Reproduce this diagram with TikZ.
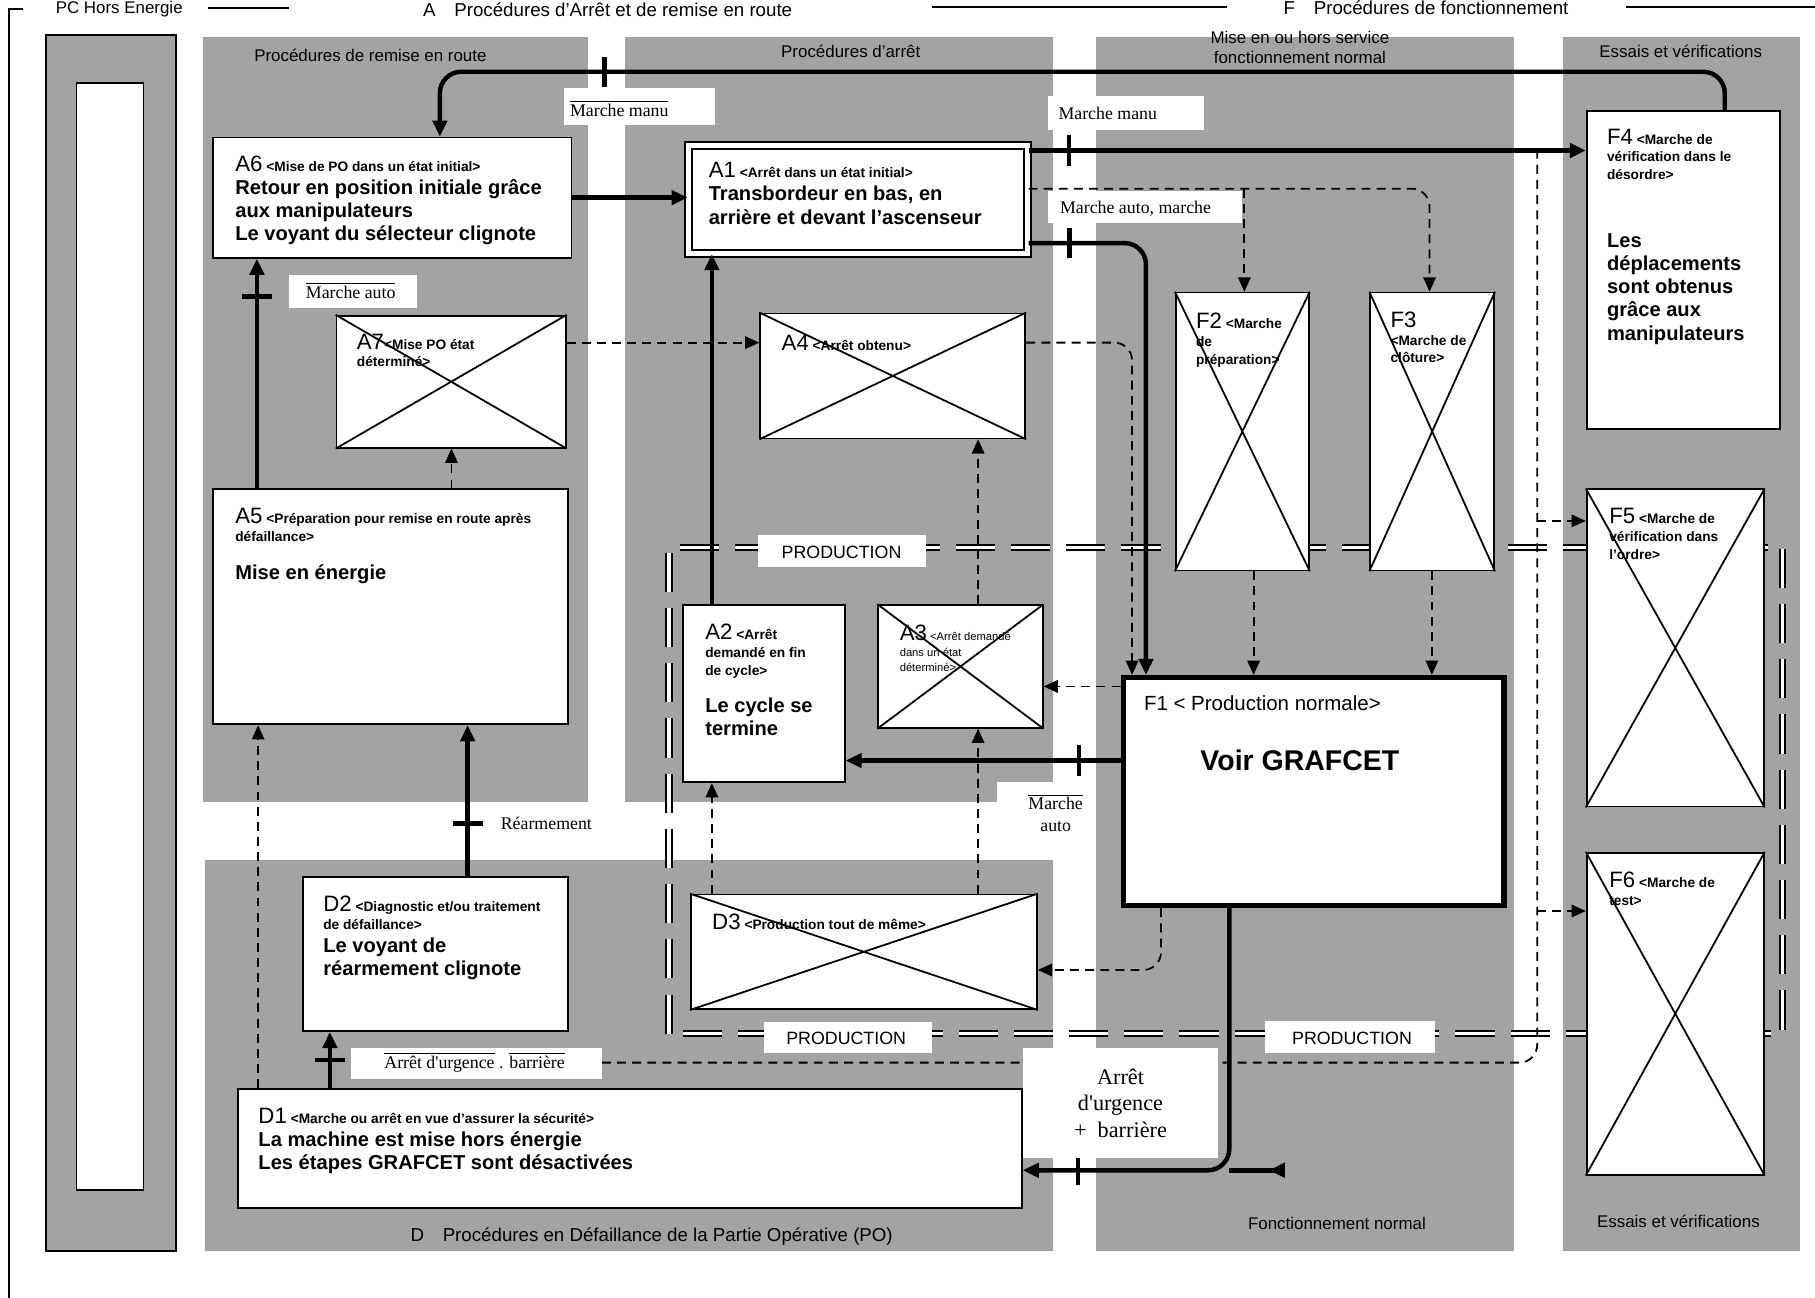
\documentclass[tikz,border=0pt]{standalone}
\usepackage{fontspec}
\setmainfont{Liberation Sans}
\newfontfamily\romain{Liberation Serif}
\usetikzlibrary{arrows.meta}

\newcommand{\petit}{\fontsize{7.7}{10}\selectfont\bfseries\spaceskip=0pt\xspaceskip=0pt}
\newcommand{\grand}{\fontsize{12.5}{13}\selectfont\mdseries}
\newcommand{\corps}{\fontsize{11.3}{13}\selectfont\bfseries\spaceskip=0pt\xspaceskip=0pt}
\newcommand{\zonetxt}{\fontsize{9.5}{11}\selectfont}
\definecolor{fond}{gray}{0.64}

\tikzset{
	etat/.style={draw, fill=white, line width=1pt, anchor=north west, inner sep=0pt},
	txt/.style={anchor=north west, inner sep=0pt, align=left, text width=12cm},
	trans/.style={line width=2.5pt, -{Triangle[length=9pt,width=8pt]}},
	cond/.style={line width=1pt, dash pattern=on 5pt off 3.5pt, -{Triangle[length=8pt,width=7pt]}},
	tickv/.style={sharp corners, fill=black, inner sep=0pt, minimum width=2.5pt, minimum height=17pt},
	tickh/.style={sharp corners, fill=black, inner sep=0pt, minimum width=17pt, minimum height=2.5pt},
	lbl/.style={inner sep=0pt, font=\romain\fontsize{10}{12}\selectfont},
	zone/.style={fill=fond}
}

\begin{document}
\begin{tikzpicture}[x=0.65pt, y=-0.65pt]
	\useasboundingbox (0,0) rectangle (1568,1121);

	% Zones grises
	\fill[zone] (175,32) rectangle (508,693);
	\fill[zone] (540,32) rectangle (910,693);
	\fill[zone] (947,32) rectangle (1308,1081);
	\fill[zone] (1350,32) rectangle (1555,1081);
	\fill[zone] (177,743) rectangle (910,1081);
	\draw[fill=fond, line width=1pt] (40,30) rectangle (152,1081);
	\draw[fill=white, line width=1pt] (66,72) rectangle (124,1028);

	% Cadre et titres
	\draw[line width=1pt] (20,8) -- (8,8) -- (8,1125);
	\draw[line width=1.5pt] (180,7) -- (250,7);
	\draw[line width=1.5pt] (805,6) -- (1060,6);
	\draw[line width=1.5pt] (1405,6) -- (1568,6);
	\node[font=\zonetxt] (tPC) at (103,8) {PC Hors Energie};
	\node[font=\fontsize{10.5}{12}\selectfont] (tA) at (525,8) {A\quad Procédures d'Arrêt et de remise en route};
	\node[font=\fontsize{10.5}{12}\selectfont] (tF) at (1232,7) {F\quad Procédures de fonctionnement};
	\node[font=\zonetxt] (z1) at (320,48) {Procédures de remise en route};
	\node[font=\zonetxt] (z2) at (735,44) {Procédures d'arrêt};
	\node[font=\zonetxt, align=center] (z3) at (1123,41) {Mise en ou hors service\\fonctionnement normal};
	\node[font=\zonetxt] (z4) at (1452,44) {Essais et vérifications};
	\node[font=\zonetxt] (z5) at (1450,1055) {Essais et vérifications};
	\node[font=\zonetxt] (z6) at (1155,1057) {Fonctionnement normal};
	\node[font=\fontsize{10.5}{12}\selectfont] (tD) at (563,1068) {D\quad Procédures en Défaillance de la Partie Opérative (PO)};

	% Cadre PRODUCTION
	\draw[double, double distance=2pt, line width=1.1pt, dash pattern=on 22pt off 9pt] (578,893) -- (578,473) -- (1540,473) -- (1540,893) -- cycle;

	% Etats
	\node[etat, minimum width=201.5pt, minimum height=67.6pt] (A6) at (183,118) {};
	\node[etat, double, double distance=3pt, minimum width=190.45pt, minimum height=60.45pt] (A1) at (594,125) {};
	\node[etat, minimum width=128.7pt, minimum height=74.1pt] (A7) at (290,272) {};
	\node[etat, minimum width=148.85pt, minimum height=70.2pt] (A4) at (656,270) {};
	\node[etat, minimum width=199.55pt, minimum height=131.95pt] (A5) at (183,422) {};
	\node[etat, minimum width=91pt, minimum height=99.45pt] (A2) at (589,522) {};
	\node[etat, minimum width=92.3pt, minimum height=68.9pt] (A3) at (758,522) {};
	\node[etat, minimum width=108.55pt, minimum height=178.75pt] (F4) at (1370,95) {};
	\node[etat, minimum width=74.75pt, minimum height=156pt] (F2) at (1015,252) {};
	\node[etat, minimum width=69.55pt, minimum height=156pt] (F3) at (1183,252) {};
	\node[etat, line width=3pt, minimum width=213.85pt, minimum height=128.05pt] (F1) at (968,583) {};
	\node[etat, minimum width=99.45pt, minimum height=178.1pt] (F5) at (1370,422) {};
	\node[etat, minimum width=99.45pt, minimum height=180.7pt] (F6) at (1370,736) {};
	\node[etat, minimum width=148.85pt, minimum height=86.45pt] (D2) at (261,757) {};
	\node[etat, minimum width=194.35pt, minimum height=64.35pt] (D3) at (596,772) {};
	\node[etat, minimum width=440.05pt, minimum height=66.95pt] (D1) at (205,940) {};

	% Textes des etats
	\node[txt] (A6t) at (203,134) {{\petit{\grand A6} <Mise de PO dans un état initial>\par}{\corps Retour en position initiale grâce\\aux manipulateurs\\Le voyant du sélecteur clignote\par}};
	\node[txt] (A1t) at (612,140) {{\petit{\grand A1} <Arrêt dans un état initial>\par}{\corps Transbordeur en bas, en\\arrière et devant l'ascenseur\par}};
	\node[txt] (A7t) at (308,288) {{\petit{\grand A7}<Mise PO état\\déterminé>\par}};
	\node[txt] (A4t) at (675,289) {{\petit{\grand A4} <Arrêt obtenu>\par}};
	\node[txt] (A5t) at (203,439) {{\petit{\grand A5} <Préparation pour remise en route après\\défaillance>\par}\vspace{8pt}{\corps Mise en énergie\par}};
	\node[txt] (A2t) at (609,539) {{\petit{\grand A2} <Arrêt\\demandé en fin\\de cycle>\par}\vspace{8pt}{\corps Le cycle se\\termine\par}};
	\node[txt] (A3t) at (777,540) {{\fontsize{6.3}{8.5}\selectfont\spaceskip=0pt{\grand A3} <Arrêt demandé\\dans un état\\déterminé>\par}};
	\node[txt] (F2t) at (1033,270) {{\petit{\grand F2} <Marche\\de\\préparation>\par}};
	\node[txt] (F3t) at (1201,269) {{\petit{\grand F3}\\<Marche de\\clôture>\par}};
	\node[txt] (F4t) at (1388,111) {{\petit{\grand F4} <Marche de\\vérification dans le\\désordre>\par}\vspace{25pt}{\corps Les\\déplacements\\sont obtenus\\grâce aux\\manipulateurs\par}};
	\node[txt] (F5t) at (1390,439) {{\petit{\grand F5} <Marche de\\vérification dans\\l'ordre>\par}};
	\node[txt] (F6t) at (1390,753) {{\petit{\grand F6} <Marche de\\test>\par}};
	\node[txt] (F1t) at (988,601) {{\fontsize{11.5}{13}\selectfont\spaceskip=0pt F1 < Production normale>\par}};
	\node[font=\fontsize{16}{18}\selectfont\bfseries] (F1v) at (1123,657) {Voir GRAFCET};
	\node[txt] (D2t) at (279,774) {{\petit{\grand D2} <Diagnostic et/ou traitement\\de défaillance>\par}{\corps Le voyant de\\réarmement clignote\par}};
	\node[txt] (D3t) at (615,789) {{\petit{\grand D3} <Production tout de même>\par}};
	\node[txt] (D1t) at (223,957) {{\petit{\grand D1} <Marche ou arrêt en vue d'assurer la sécurité>\par}{\corps La machine est mise hors énergie\\Les étapes GRAFCET sont désactivées\par}};

	% Etats barres
	\foreach \b in {A7,A4,A3,F2,F3,F5,F6,D3}
	\draw[line width=1pt] (\b.north west) -- (\b.south east) (\b.north east) -- (\b.south west);

	% Transitions (traits forts)
	\coordinate (h1) at (1490,62);
	\coordinate (h2) at (380,62);
	\coordinate (h3) at (890,130);
	\coordinate (h4) at (990,210);
	\coordinate (h5) at (222,0);
	\coordinate (h6) at (615,0);
	\coordinate (h7) at (0,657);
	\coordinate (h8) at (404,0);
	\coordinate (h9) at (285,0);
	\coordinate (h10) at (1062,1011);
	\coordinate (h11) at (1110,1011);
	\draw[trans, rounded corners=12pt] (F4.north -| h1) -- (h1) -- node[tickv, pos=.872]{} (h2) -- (A6.north -| h2);
	\draw[trans] (A1.east |- h3) -- node[tickv, pos=.073]{} (F4.west |- h3);
	\draw[trans] (A6.east) -- (A1.west |- A6.east);
	\draw[trans, rounded corners=12pt] (A1.east |- h4) -- node[tickv, pos=.35]{} (h4) -- (F1.north -| h4);
	\draw[trans] (A5.north -| h5) -- node[tickh, pos=.835]{} (A6.south -| h5);
	\draw[trans] (A2.north -| h6) -- (A1.south -| h6);
	\draw[trans] (F1.west |- h7) -- node[tickv, pos=.15]{} (A2.east |- h7);
	\draw[trans] (D2.north -| h8) -- node[tickh, pos=.35]{} (A5.south -| h8);
	\draw[trans] (D1.north -| h9) -- node[tickh, pos=.5]{} (D2.south -| h9);
	\draw[trans, rounded corners=12pt] (F1.south -| h10) -- (h10) -- node[tickv, pos=.733]{} (D1.east |- h10);
	\draw[line width=2.5pt, -{Triangle[reversed,length=9pt,width=8pt]}] (h10) -- (h11);

	% Liaisons en pointille
	\coordinate (p1) at (1235,163);
	\coordinate (p2) at (1075,163);
	\coordinate (p3) at (0,296);
	\coordinate (p4) at (978,296);
	\coordinate (p5) at (1083,0);
	\coordinate (p6) at (1237,0);
	\coordinate (p7) at (390,0);
	\coordinate (p8) at (0,593);
	\coordinate (p9) at (845,0);
	\coordinate (p10) at (223,0);
	\coordinate (p11) at (1003,838);
	\coordinate (p12) at (1328,918);
	\coordinate (p13) at (1328,130);
	\coordinate (p14) at (1328,450);
	\coordinate (p15) at (1328,787);
	\coordinate (p16) at (520,918);
	\draw[cond, rounded corners=10pt] (A1.east |- p1) -- (p1) -- (F3.north -| p1);
	\draw[cond] (p2) -- (F2.north -| p2);
	\draw[cond] (A7.east |- p3) -- (A4.west |- p3);
	\draw[cond, rounded corners=10pt] (A4.east |- p4) -- (p4) -- (F1.north -| p4);
	\draw[cond] (F2.south -| p5) -- (F1.north -| p5);
	\draw[cond] (F3.south -| p6) -- (F1.north -| p6);
	\draw[cond] (A5.north -| p7) -- (A7.south -| p7);
	\draw[cond] (F1.west |- p8) -- (A3.east |- p8);
	\draw[cond] (D3.north -| p9) -- (A3.south -| p9);
	\draw[cond] (A3.north -| p9) -- (A4.south -| p9);
	\draw[cond] (D3.north -| h6) -- (A2.south -| h6);
	\draw[cond] (D1.north -| p10) -- (A5.south -| p10);
	\draw[cond, rounded corners=10pt] (F1.south -| p11) -- (p11) -- (D3.east |- p11);
	\draw[cond, -, rounded corners=10pt] (p16) -- (p12) -- (p13);
	\draw[cond] (p14) -- (F5.west |- p14);
	\draw[cond] (p15) -- (F6.west |- p15);

	% Receptivites
	\fill[white] (487,76) rectangle (618,108);
	\fill[white] (905,83) rectangle (1040,112);
	\fill[white] (905,165) rectangle (1073,193);
	\fill[white] (250,238) rectangle (360,266);
	\fill[white] (655,462) rectangle (800,490);
	\fill[white] (660,883) rectangle (805,910);
	\fill[white] (1093,882) rectangle (1240,910);
	\fill[white] (861,676) rectangle (947,722);
	\fill[white] (303,905) rectangle (520,932);
	\fill[white] (884,905) rectangle (1052,1000);
	\node[lbl] (MM1) at (535,94) {$\overline{\mbox{Marche manu}}$};
	\node[lbl] (MM2) at (957,98) {Marche manu};
	\node[lbl] (MAM) at (981,180) {Marche auto, marche};
	\node[lbl] (MA1) at (303,251) {$\overline{\mbox{Marche auto}}$};
	\node[lbl, align=center] (MA2) at (912,702) {$\overline{\mbox{Marche}}$\\auto};
	\node[lbl] (REA) at (472,711) {Réarmement};
	\node[lbl] (AU) at (410,918) {$\overline{\mbox{Arrêt d'urgence}}$ . $\overline{\mbox{barrière}}$};
	\node[lbl, align=center, font=\romain\fontsize{12.5}{15}\selectfont] (AU2) at (968,953) {Arrêt\\d'urgence\\+\ \ barrière};
	\node[font=\fontsize{10}{12}\selectfont] (P1) at (727,477) {PRODUCTION};
	\node[font=\fontsize{10}{12}\selectfont] (P2) at (731,897) {PRODUCTION};
	\node[font=\fontsize{10}{12}\selectfont] (P3) at (1168,897) {PRODUCTION};

\end{tikzpicture}
\end{document}
